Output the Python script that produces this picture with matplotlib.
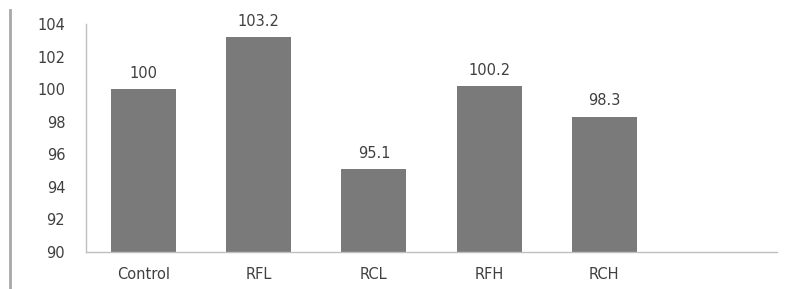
import matplotlib.pyplot as plt
from matplotlib.lines import Line2D

# Data
categories = ["Control", "RFL", "RCL", "RFH", "RCH", ""]
values = [100, 103.2, 95.1, 100.2, 98.3, None]
value_labels = ["100", "103.2", "95.1", "100.2", "98.3", ""]
y_ticks = [90, 92, 94, 96, 98, 100, 102, 104]

plt.rcParams["font.family"] = ["DejaVu Sans"]
text_color = "#404040"
axis_color = "#bfbfbf"
fsize = 10.5

fig = plt.figure(figsize=(7.88, 2.89), dpi=100)
ax = fig.add_axes([86 / 788, 37 / 289, 691 / 788, 228 / 289])

x = list(range(len(categories)))
bar_x = [i for i, v in zip(x, values) if v is not None]
bar_h = [v - 90 for v in values if v is not None]
ax.bar(bar_x, bar_h, bottom=90, width=0.565, color="#7a7a7a")

for i, v, lab in zip(x, values, value_labels):
    if v is not None:
        ax.annotate(lab, (i, v), xytext=(0, 6), textcoords="offset points",
                    ha="center", va="bottom", fontsize=fsize, color=text_color)

ax.set_xlim(-0.5, len(categories) - 0.5)
ax.set_ylim(90, 104)
ax.set_yticks(y_ticks)
ax.set_xticks(x)
ax.set_xticklabels(categories)
ax.tick_params(axis="both", length=0, labelsize=fsize, colors=text_color)
ax.tick_params(axis="y", pad=15)
ax.tick_params(axis="x", pad=11)

for side in ["top", "right"]:
    ax.spines[side].set_visible(False)
for side in ["left", "bottom"]:
    ax.spines[side].set_color(axis_color)
    ax.spines[side].set_linewidth(1)

# thin border line at the left edge of the picture
fig.add_artist(Line2D([9.5 / 788, 9.5 / 788], [0, 279 / 289],
                      transform=fig.transFigure, color="#a8a8a8", linewidth=2))

fig.savefig("out.png", dpi=100)
